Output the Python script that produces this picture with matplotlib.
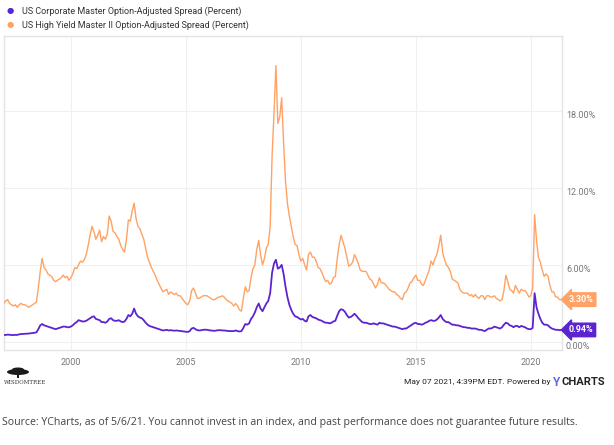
import numpy as np
import matplotlib.pyplot as plt
import matplotlib as mpl
from matplotlib.patches import Ellipse, Rectangle

mpl.rcParams['font.family'] = ['Roboto', 'DejaVu Sans']

# monthly values, Jan 1997 .. May 2021
hy_spread = [
    3.1, 3.0, 3.2, 3.3, 3.0, 2.9, 2.8, 2.9, 2.7, 2.9, 3.0, 2.9,        # 1997
    2.9, 2.8, 2.7, 2.8, 2.9, 3.0, 3.1, 4.2, 5.5, 6.5, 5.8, 5.6,        # 1998
    5.3, 5.2, 5.1, 4.8, 4.7, 4.8, 4.9, 5.0, 5.2, 5.0, 5.1, 4.8,        # 1999
    5.0, 5.3, 5.8, 5.7, 6.0, 6.3, 6.2, 6.4, 6.8, 7.5, 8.3, 9.0,        # 2000
    8.6, 8.0, 8.3, 8.7, 7.8, 8.2, 8.0, 8.4, 9.8, 9.4, 8.6, 8.5,        # 2001
    8.2, 8.0, 7.5, 7.2, 7.0, 8.0, 9.5, 9.4, 10.2, 10.8, 9.6, 9.0,      # 2002
    8.8, 8.4, 8.0, 7.3, 6.6, 6.2, 5.8, 5.5, 5.2, 4.8, 4.5, 4.2,        # 2003
    3.9, 4.0, 4.1, 3.7, 3.9, 3.8, 3.7, 3.8, 3.6, 3.6, 3.4, 3.2,        # 2004
    3.0, 2.9, 3.2, 4.0, 4.2, 3.8, 3.4, 3.4, 3.5, 3.6, 3.6, 3.6,        # 2005
    3.5, 3.4, 3.3, 3.3, 3.4, 3.5, 3.5, 3.6, 3.5, 3.3, 3.2, 3.1,        # 2006
    3.0, 2.8, 3.0, 2.8, 2.5, 2.4, 3.4, 4.3, 3.9, 4.0, 5.0, 5.7,        # 2007
    6.0, 7.2, 7.9, 6.8, 6.0, 6.5, 7.3, 7.6, 9.0, 14.5, 17.8, 21.5,     # 2008
    17.0, 17.5, 19.0, 15.5, 12.5, 10.8, 9.8, 9.0, 8.2, 7.6, 7.5, 6.8,  # 2009
    6.3, 6.5, 6.0, 5.6, 6.8, 7.0, 6.6, 6.6, 6.3, 5.8, 5.7, 5.4,        # 2010
    5.0, 4.7, 4.8, 4.5, 4.6, 5.0, 5.1, 6.5, 7.6, 8.3, 7.8, 7.3,        # 2011
    6.6, 5.9, 6.0, 6.2, 6.8, 6.5, 6.1, 5.6, 5.5, 5.5, 5.5, 5.2,        # 2012
    4.9, 4.8, 4.5, 4.2, 4.5, 5.0, 4.6, 4.6, 4.5, 4.3, 4.1, 4.0,        # 2013
    3.9, 3.9, 3.7, 3.6, 3.4, 3.3, 3.8, 3.9, 4.2, 4.6, 4.7, 5.0,        # 2014
    5.2, 4.8, 4.8, 4.5, 4.4, 4.8, 5.2, 5.6, 6.3, 6.0, 6.5, 6.8,        # 2015
    7.5, 8.3, 7.0, 6.4, 6.0, 5.8, 5.5, 4.9, 4.8, 4.7, 4.6, 4.1,        # 2016
    3.9, 3.8, 3.8, 3.8, 3.6, 3.7, 3.5, 3.7, 3.5, 3.4, 3.6, 3.6,        # 2017
    3.3, 3.6, 3.6, 3.5, 3.5, 3.6, 3.4, 3.3, 3.2, 3.3, 4.0, 5.2,        # 2018
    4.7, 4.1, 4.0, 3.8, 4.4, 4.1, 3.8, 4.1, 4.0, 4.0, 3.8, 3.5,        # 2019
    3.6, 4.2, 9.9, 7.9, 6.6, 6.2, 5.6, 5.1, 5.3, 5.1, 4.4, 3.9,        # 2020
    3.9, 3.5, 3.5, 3.3, 3.3,                                           # 2021
]

corp_spread = [
    0.55, 0.55, 0.55, 0.58, 0.56, 0.55, 0.54, 0.56, 0.55, 0.60, 0.62, 0.63,  # 1997
    0.64, 0.65, 0.66, 0.68, 0.70, 0.72, 0.75, 1.00, 1.30, 1.40, 1.30, 1.25,  # 1998
    1.20, 1.15, 1.10, 1.05, 1.00, 1.05, 1.10, 1.15, 1.20, 1.20, 1.15, 1.15,  # 1999
    1.20, 1.30, 1.45, 1.55, 1.70, 1.65, 1.60, 1.60, 1.65, 1.75, 1.85, 1.95,  # 2000
    2.00, 1.80, 1.75, 1.70, 1.55, 1.55, 1.50, 1.60, 1.80, 1.85, 1.70, 1.65,  # 2001
    1.65, 1.70, 1.60, 1.55, 1.60, 1.80, 2.10, 2.00, 2.20, 2.60, 2.20, 2.00,  # 2002
    1.90, 1.85, 1.70, 1.50, 1.35, 1.25, 1.20, 1.15, 1.10, 1.05, 1.00, 0.95,  # 2003
    0.90, 0.92, 0.95, 0.90, 0.92, 0.90, 0.88, 0.90, 0.88, 0.86, 0.84, 0.82,  # 2004
    0.80, 0.78, 0.85, 1.05, 1.10, 1.00, 0.92, 0.90, 0.92, 0.95, 0.96, 0.95,  # 2005
    0.92, 0.90, 0.88, 0.87, 0.90, 0.92, 0.92, 0.90, 0.90, 0.88, 0.86, 0.85,  # 2006
    0.85, 0.85, 0.90, 0.85, 0.82, 0.85, 1.10, 1.40, 1.35, 1.45, 1.80, 2.00,  # 2007
    2.30, 2.70, 3.00, 2.60, 2.40, 2.70, 3.00, 3.20, 3.80, 5.40, 6.10, 6.40,  # 2008
    5.70, 5.80, 6.00, 5.30, 4.30, 3.50, 2.90, 2.50, 2.20, 2.00, 1.95, 1.85,  # 2009
    1.75, 1.80, 1.65, 1.60, 2.00, 2.10, 1.95, 1.90, 1.85, 1.75, 1.70, 1.65,  # 2010
    1.55, 1.50, 1.50, 1.45, 1.50, 1.60, 1.65, 2.05, 2.40, 2.55, 2.50, 2.35,  # 2011
    2.10, 1.90, 1.95, 2.05, 2.20, 2.05, 1.85, 1.70, 1.55, 1.50, 1.50, 1.45,  # 2012
    1.40, 1.40, 1.45, 1.40, 1.35, 1.50, 1.45, 1.45, 1.40, 1.35, 1.30, 1.25,  # 2013
    1.20, 1.20, 1.15, 1.10, 1.05, 1.00, 1.05, 1.05, 1.15, 1.25, 1.35, 1.45,  # 2014
    1.50, 1.40, 1.40, 1.35, 1.40, 1.50, 1.55, 1.65, 1.70, 1.65, 1.65, 1.75,  # 2015
    1.90, 2.10, 1.80, 1.65, 1.55, 1.55, 1.45, 1.35, 1.35, 1.30, 1.30, 1.25,  # 2016
    1.20, 1.15, 1.15, 1.10, 1.10, 1.05, 1.05, 1.05, 1.00, 0.95, 0.95, 0.90,  # 2017
    0.85, 0.95, 1.05, 1.05, 1.10, 1.20, 1.15, 1.10, 1.05, 1.15, 1.35, 1.50,  # 2018
    1.45, 1.30, 1.25, 1.15, 1.25, 1.25, 1.15, 1.25, 1.20, 1.15, 1.05, 1.00,  # 2019
    1.00, 1.10, 3.80, 2.70, 2.20, 1.80, 1.50, 1.35, 1.35, 1.30, 1.15, 1.05,  # 2020
    1.00, 0.95, 0.95, 0.92, 0.94,                                            # 2021
]

legend_labels = ['US Corporate Master Option-Adjusted Spread (Percent)',
                 'US High Yield Master II Option-Adjusted Spread (Percent)']
year_ticks = [2000, 2005, 2010, 2015, 2020]
pct_ticks = [0, 6, 12, 18]

c_corp = '#5b24d0'
c_hy = '#ffa264'

t = 1997 + np.arange(len(hy_spread)) / 12.0

fig = plt.figure(figsize=(6.14, 4.45), dpi=100)
ax = fig.add_axes([0.0065, 0.2135, 0.9085, 0.7055])

ax.plot(t, hy_spread, color=c_hy, lw=1.0, zorder=3)
ax.plot(t, corp_spread, color=c_corp, lw=1.3, zorder=3)

ax.set_xlim(1997.09, 2021.35)
ax.set_ylim(-0.62, 23.8)
ax.set_xticks(year_ticks)
ax.set_yticks(pct_ticks)
ax.set_yticklabels(['{:.2f}%'.format(v) for v in pct_ticks])
ax.yaxis.tick_right()
ax.tick_params(length=0, labelsize=6.5, labelcolor='#777777')
ax.tick_params(axis='y', pad=3)
ax.tick_params(axis='x', pad=6)
for lab in ax.get_yticklabels():
    lab.set_verticalalignment('top')
ax.grid(True, color='#f0f0f0', lw=0.8, zorder=0)
for sp in ax.spines.values():
    sp.set_color('#e4e4e4')
    sp.set_linewidth(1.0)

# last value tags
for val, col in [(hy_spread[-1], c_hy), (corp_spread[-1], c_corp)]:
    ax.annotate('{:.2f}%'.format(val), xy=(1, val), xycoords=('axes fraction', 'data'),
                xytext=(5, 0), textcoords='offset points', va='center', ha='left',
                fontsize=6.5, fontweight='bold', color='white', annotation_clip=False,
                bbox=dict(boxstyle='larrow,pad=0.25', fc=col, ec=col))

# legend
for i, (lab, col) in enumerate(zip(legend_labels, [c_corp, c_hy])):
    y = 1 - (11 + 14 * i) / 445
    fig.text(10 / 614, y, '\u25cf', color=col, fontsize=6, va='center', ha='center',
             family=['DejaVu Sans'])
    fig.text(22 / 614, y, lab, color='#333333', fontsize=6.5, va='center')

# footer: WisdomTree mark
W, H = 614.0, 445.0
fig.patches.append(Ellipse((18 / W, 1 - 372 / H), 22 / W, 6 / H, fc='#1a1a1a', ec='none',
                           transform=fig.transFigure, figure=fig))
fig.patches.append(Ellipse((18 / W, 1 - 369.5 / H), 12 / W, 4 / H, fc='#1a1a1a', ec='none',
                           transform=fig.transFigure, figure=fig))
fig.patches.append(Rectangle((17 / W, 1 - 378 / H), 2 / W, 4 / H, fc='#1a1a1a', ec='none',
                             transform=fig.transFigure, figure=fig))
fig.text(4 / W, 1 - 383 / H, 'WISDOMTREE', family='DejaVu Serif', fontsize=4,
         color='#333333', va='center')
fig.text(553 / W, 1 - 382 / H, 'May 07 2021, 4:39PM EDT. Powered by ',
         fontsize=6, color='#222222', va='center', ha='right')
fig.text(553 / W, 1 - 382 / H, 'Y', fontsize=8.5, color='#5b6cf0',
         fontweight='bold', va='center', ha='left')
fig.text(561 / W, 1 - 382 / H, 'CHARTS', fontsize=8, color='#222222',
         fontweight='bold', va='center', ha='left')
fig.text(2 / W, 1 - 423 / H,
         'Source: YCharts, as of 5/6/21. You cannot invest in an index, and past performance does not guarantee future results.',
         family='Open Sans', fontsize=7.6, color='#444444', va='center')

fig.savefig('out.png', dpi=100)
